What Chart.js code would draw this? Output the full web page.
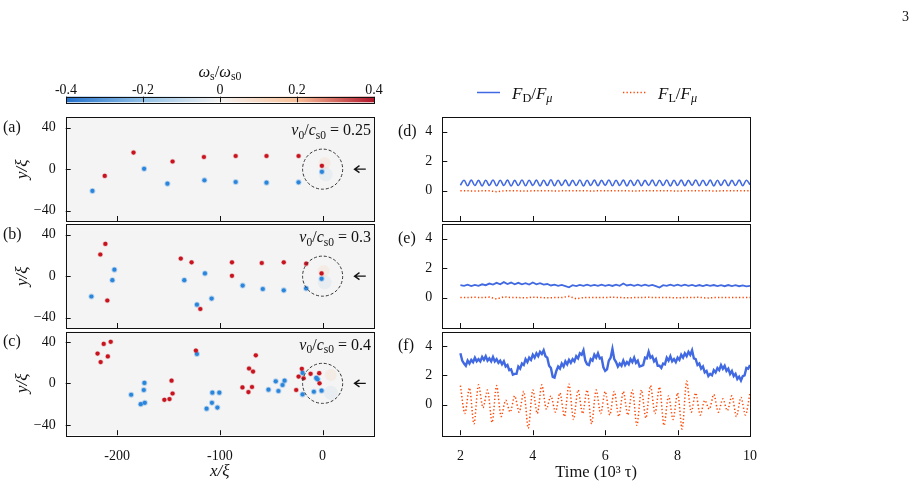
<!DOCTYPE html>
<html>
<head>
<meta charset="utf-8">
<script src="https://cdn.jsdelivr.net/npm/chart.js@4.4.0/dist/chart.umd.min.js"></script>
<style>
  body { margin: 0; background: #fff; }
  #wrap { position: relative; width: 922px; height: 492px; }
  #wrap canvas { position: absolute; left: 0; top: 0; }
  #page { position: absolute; left: 902px; top: 9px; font: 14px "Liberation Serif", serif; color: #111; }
</style>
</head>
<body>
<div id="wrap">
  <canvas id="cbar" width="922" height="492"></canvas>
  <canvas id="pa" width="922" height="492"></canvas>
  <canvas id="pb" width="922" height="492"></canvas>
  <canvas id="pc" width="922" height="492"></canvas>
  <canvas id="pd" width="922" height="492"></canvas>
  <canvas id="pe" width="922" height="492"></canvas>
  <canvas id="pf" width="922" height="492"></canvas>
  <div id="page">3</div>
</div>
<script>
// ---- data ----
const cbarTicks = [-0.4, -0.2, 0, 0.2, 0.4];
const xTicksVort = [-200, -100, 0];
const yTicksVort = [-40, 0, 40];
const timeTicks = [2, 4, 6, 8, 10];
const forceTicks = [0, 2, 4];
const speeds = ['0.25', '0.3', '0.4'];
const panelNames = ['(a)', '(b)', '(c)', '(d)', '(e)', '(f)'];

// vortex positions (x/xi, y/xi)
const redA = [[-212,-6.5],[-184,16],[-146,7.4],[-115.5,11.7],[-84.6,12.7],[-54.6,12.7],[-23.4,12.7],[-0.7,3.2]];
const blueA = [[-224,-21],[-173.7,0.3],[-151,-14],[-115,-10.7],[-84.6,-12.4],[-54.6,-13],[-23.4,-12.7],[-0.7,-2.6]];
const redB = [[-211.4,31.1],[-216.3,20.9],[-209.5,-23.5],[-138,16.9],[-127.5,13.3],[-119,-31.7],[-88.2,13.3],[-88.2,0.3],
  [-59.2,12.7],[-37.8,13.3],[-16,12],[-1,2.6]];
const blueB = [[-225,-19.6],[-202.6,6.2],[-204.6,-3.9],[-134.6,-3.9],[-114.5,2.6],[-122.3,-27.5],[-108,-21.6],[-77.8,-9.1],
  [-58.2,-12.4],[-37.8,-13.7],[-16,-11.8],[-1,-2.6]];
const redC = [[-206.2,40],[-213,38],[-219,28.7],[-209,26],[-216,20.5],[-147,2.6],[-146,-9.8],[-149,-15.2],[-154,-15.9],
  [-123.3,31.6],[-65,27],[-71.6,14.3],[-67.7,11.4],[-78,-3.9],[-68.7,-3.5],[-72.2,-8.4],[-25.7,-6.4],[-23.4,6.5],
  [-20.2,14],[-18.5,4.9],[-11.7,9.2],[-3.3,9.8],[-3,0]];
const blueC = [[-186.3,-11],[-173.4,0.4],[-174,-6.4],[-177,-20.1],[-173,-18.8],[-122.3,28.3],[-107.3,-9],[-100.5,-9],
  [-107.7,-18.8],[-112.9,-24.4],[-102.4,-23.4],[-52.7,-6.1],[-45.6,2],[-37,2.6],[-39,-1.6],[-43,-7.4],[-19.5,10.1],
  [-19.5,-10.7],[-8.5,-8.1],[-6.2,5.2],[-4.9,3.9],[-1,-7.1]];
const glowRed = [[[2,6]], [[1,5]], [[8,8]]];
const glowBlue = [[[3,-5]], [[2,-6]], [[8,-9]]];

// forces, time in 10^3 tau
const fdD = [0.36,0.7,0.33,0.71,0.34,0.69,0.32,0.7,0.35,0.72,
  0.33,0.7,0.34,0.71,0.32,0.69,0.34,0.72,0.33,0.7,
  0.35,0.71,0.32,0.7,0.34,0.73,0.33,0.7,0.35,0.71,
  0.33,0.69,0.34,0.72,0.32,0.7,0.34,0.71,0.33,0.69,
  0.35,0.72,0.33,0.7,0.34,0.71,0.32,0.7,0.34,0.72,
  0.33,0.69,0.35,0.71,0.33,0.7,0.34,0.72,0.32,0.7,
  0.34,0.71,0.33,0.69,0.35,0.72,0.33,0.7,0.34,0.71,
  0.32,0.7,0.35,0.72,0.33,0.69,0.34,0.71,0.33,0.7,
  0.4];
const flD = [-0.02,-0.02,-0.03,-0.02,-0.02,-0.08,-0.02,-0.01,-0.02,-0.03,
  -0.02,-0.02,-0.01,-0.03,-0.02,-0.02,-0.02,-0.01,-0.03,-0.02,
  -0.02,-0.02,-0.01,-0.02,-0.03,-0.02,-0.02,-0.02,-0.01,-0.02,
  -0.03,-0.02,-0.02,-0.02,-0.01,-0.03,-0.02,-0.02,-0.02,-0.02,-0.02];
const fdE = [0.85,0.8,0.88,0.78,0.86,0.8,0.9,0.84,0.95,0.88,
  1.0,0.9,1.05,0.92,1.02,0.9,1.0,0.9,0.98,0.88,
  1.02,0.9,0.98,0.88,0.92,0.82,0.88,0.8,0.86,0.78,
  0.7,0.84,0.78,0.86,0.8,0.87,0.8,0.86,0.79,0.87,
  0.8,0.86,0.79,0.88,0.8,0.95,0.82,0.88,0.8,0.87,
  0.8,0.88,0.8,0.86,0.78,0.68,0.84,0.8,0.88,0.8,
  0.87,0.8,0.88,0.8,0.86,0.78,0.85,0.78,0.86,0.79,
  0.85,0.78,0.84,0.77,0.85,0.78,0.84,0.77,0.83,0.76,
  0.8];
const flE = [0,0,0.02,0,0.03,-0.1,0.05,0,0,-0.02,
  0.03,0,-0.02,0,0,0.08,-0.08,0,0,0,
  0,0.02,0,-0.02,0,0,0.02,0,0,0,
  -0.02,0,0,0.02,-0.04,0,0,0,0,0,0];
const fdF = [3.5,3.0,2.8,2.65,3.0,2.8,3.05,2.9,3.2,2.95,
  3.1,2.95,3.25,3.05,3.3,3.0,3.15,2.95,3.25,2.95,
  3.1,2.85,3.0,2.75,2.95,2.6,2.7,2.35,2.4,2.05,
  2.1,2.1,2.6,2.45,2.8,2.7,3.1,2.9,3.2,3.05,
  3.4,3.2,3.5,3.3,3.6,3.45,3.7,3.3,3.2,2.65,
  2.5,1.9,1.85,2.3,2.6,2.45,2.8,2.6,2.95,2.75,
  3.05,2.85,3.1,2.95,3.3,3.15,3.5,3.4,3.7,3.0,
  2.75,2.7,3.1,3.0,3.4,3.2,3.5,3.15,3.2,2.55,
  2.3,2.4,3.0,3.2,3.8,3.1,2.9,2.6,2.8,2.65,
  3.0,2.7,2.9,2.75,3.1,2.9,3.2,2.85,3.0,2.6,
  2.65,2.7,3.2,3.15,3.6,3.2,3.3,2.95,3.1,2.65,
  2.65,2.5,2.8,2.75,3.2,3.0,3.3,2.95,3.1,2.9,
  3.2,3.05,3.4,3.2,3.5,3.3,3.6,3.4,3.7,3.15,
  3.1,2.7,2.8,2.45,2.6,2.2,2.3,1.95,2.1,2.0,
  2.35,2.2,2.5,2.35,2.7,2.45,2.65,2.3,2.45,2.1,
  2.3,1.95,2.1,1.75,1.9,1.65,1.95,2.0,2.5,2.45,
  2.7];
const flF = [1.3,-0.6,1.15,-1.3,1.35,-0.2,1.0,-1.2,1.3,-0.8,
  0.3,-0.5,0.6,-0.5,0.9,-1.6,1.0,-0.6,1.35,-0.3,
  0.6,-0.5,0.8,-0.8,1.4,-1.0,1.0,-0.6,1.0,-1.3,
  1.0,-0.6,0.9,-0.7,0.9,-0.8,0.9,-0.7,1.0,-1.4,
  1.0,-0.9,1.3,-0.6,1.2,-1.4,0.6,-1.0,0.8,-1.65,
  1.6,-0.5,0.8,-0.7,0.3,-0.3,0.7,-0.5,0.4,-0.4,
  0.6,-0.8,0.5,-0.7,0.8];

// ---- style ----
const FAM = '"Liberation Serif", serif';
const FS = 14;
const INK = '#111';
const RED = '#c8141f', BLUE = '#2a86dc';
const FD_COL = '#4169e1', FL_COL = '#ff4500';
Chart.defaults.font.family = FAM;
Chart.defaults.font.size = FS;
Chart.defaults.color = INK;

const pts = a => a.map(p => ({x: p[0], y: p[1]}));
const series = (t0, dt, ys) => ys.map((y, i) => ({x: +(t0 + i * dt).toFixed(3), y: y}));
const fixTicks = list => s => { s.ticks = list.map(v => ({value: v})); };
const minus = v => v < 0 ? '\u2212' + (-v) : String(v);
const noGrid = {display: true, drawTicks: false, drawOnChartArea: false};

// text with italic / subscript pieces, y is the baseline
function rich(ctx, parts, x, y, size, align) {
  const fonts = parts.map(p => {
    const sub = p[1].includes('s'), it = p[1].includes('i');
    return (it ? 'italic ' : '') + (sub ? size * 0.72 : size) + 'px ' + FAM;
  });
  let w = 0;
  parts.forEach((p, i) => { ctx.font = fonts[i]; w += ctx.measureText(p[0]).width; });
  let cx = align === 'right' ? x - w : align === 'center' ? x - w / 2 : x;
  ctx.textAlign = 'left';
  ctx.textBaseline = 'alphabetic';
  ctx.fillStyle = INK;
  parts.forEach((p, i) => {
    ctx.font = fonts[i];
    ctx.fillText(p[0], cx, y + (p[1].includes('s') ? size * 0.2 : 0));
    cx += ctx.measureText(p[0]).width;
  });
}

const deco = {
  id: 'deco',
  beforeDraw(chart, args, o) {
    const {ctx, chartArea: a} = chart;
    if (o.bg) {
      ctx.save();
      ctx.fillStyle = o.bg;
      ctx.fillRect(a.left, a.top, a.right - a.left, a.bottom - a.top);
      ctx.restore();
    }
    if (o.gradient) {
      ctx.save();
      const g = ctx.createLinearGradient(a.left, 0, a.right, 0);
      o.gradient.forEach(s => g.addColorStop(s[0], s[1]));
      ctx.fillStyle = g;
      ctx.fillRect(a.left, a.top, a.right - a.left, a.bottom - a.top);
      ctx.restore();
    }
  },
  afterDraw(chart, args, o) {
    const {ctx, chartArea: a, scales} = chart;
    ctx.save();
    ctx.strokeStyle = INK;
    ctx.lineWidth = 1;
    // ticks pointing inwards
    const tl = o.tickLen || 5;
    if (scales.x) scales.x.ticks.forEach(t => {
      const px = Math.round(scales.x.getPixelForValue(t.value)) + 0.5;
      ctx.beginPath();
      if (o.fullTicks) { ctx.moveTo(px, a.top); ctx.lineTo(px, a.bottom); }
      else { ctx.moveTo(px, a.bottom); ctx.lineTo(px, a.bottom - tl); }
      ctx.stroke();
    });
    if (scales.y && scales.y.options.display) scales.y.ticks.forEach(t => {
      const py = Math.round(scales.y.getPixelForValue(t.value)) + 0.5;
      ctx.beginPath();
      ctx.moveTo(a.left, py);
      ctx.lineTo(a.left + tl, py);
      ctx.stroke();
    });
    // frame
    ctx.strokeRect(Math.round(a.left) + 0.5, Math.round(a.top) + 0.5,
      Math.round(a.right - a.left), Math.round(a.bottom - a.top));
    // dashed circle and arrow around the obstacle
    if (o.circle) {
      const cx = scales.x.getPixelForValue(0), cy = scales.y.getPixelForValue(0);
      const r = scales.x.getPixelForValue(19.5) - cx;
      ctx.strokeStyle = '#333';
      ctx.setLineDash([3, 2]);
      ctx.beginPath();
      ctx.arc(cx, cy, r, 0, Math.PI * 2);
      ctx.stroke();
      ctx.setLineDash([]);
      const x1 = scales.x.getPixelForValue(42), x0 = scales.x.getPixelForValue(31);
      ctx.strokeStyle = INK;
      ctx.lineWidth = 1.3;
      ctx.beginPath();
      ctx.moveTo(x1, cy); ctx.lineTo(x0, cy);
      ctx.moveTo(x0 + 5, cy - 3.5); ctx.lineTo(x0, cy); ctx.lineTo(x0 + 5, cy + 3.5);
      ctx.stroke();
    }
    // panel letter
    if (o.name) {
      ctx.font = '16px ' + FAM;
      ctx.fillStyle = INK;
      ctx.textAlign = 'left';
      ctx.textBaseline = 'middle';
      ctx.fillText(o.name, o.nameX, scales.y.getPixelForValue(o.nameAt));
    }
    if (o.speed) {
      rich(ctx, [['v', 'i'], ['0', 's'], ['/', ''], ['c', 'i'], ['s0', 's'], [' = ' + o.speed, '']],
        a.right - 3, a.top + 18, 16, 'right');
    }
    if (o.title) rich(ctx, o.title, (a.left + a.right) / 2, 77, 16.5, 'center');
    if (o.legend) {
      o.legend.forEach(l => {
        ctx.strokeStyle = l.color;
        ctx.lineWidth = 1.5;
        ctx.setLineDash(l.dash);
        ctx.beginPath();
        ctx.moveTo(l.x, 92.5); ctx.lineTo(l.x + 23, 92.5);
        ctx.stroke();
        ctx.setLineDash([]);
        rich(ctx, l.text, l.x + 35, 98.5, 17, 'left');
      });
    }
    ctx.restore();
  }
};

const base = (pad) => ({
  responsive: false,
  animation: false,
  devicePixelRatio: 1,
  layout: {padding: pad},
  plugins: {legend: {display: false}, tooltip: {enabled: false}},
  elements: {point: {radius: 0}}
});

// ---- colour bar ----
(function () {
  const opt = base({left: 66, right: 548, top: 60, bottom: 389.7});
  opt.plugins.deco = {
    gradient: [[0, '#2270cc'], [0.25, '#92c1e6'], [0.5, '#f3f2f1'], [0.75, '#f8c19a'], [1, '#b0162b']],
    fullTicks: true,
    title: [['\u03c9', 'i'], ['s', 's'], ['/', ''], ['\u03c9', 'i'], ['s0', 's']]
  };
  opt.scales = {
    x: {type: 'linear', position: 'top', min: -0.4, max: 0.4,
      afterBuildTicks: fixTicks(cbarTicks),
      afterFit: s => { s.height = 36.7; },
      grid: noGrid, border: {display: false},
      ticks: {padding: -2, callback: v => v === 0 ? '0' : v.toFixed(1)}},
    y: {display: false, min: 0, max: 1}
  };
  new Chart(document.getElementById('cbar'), {type: 'scatter', data: {datasets: [{data: []}]}, options: opt, plugins: [deco]});
})();

// ---- vortex panels ----
const rowTop = [117.3, 224.3, 331.5];
const rowH = 103.7;

function vortexPanel(id, k, red, blue) {
  const bottomRow = k === 2;
  const axH = bottomRow ? 50 : 0;
  const top = rowTop[k], bot = top + rowH;
  const opt = base({left: 0, right: 548, top: top, bottom: 492 - bot - axH});
  opt.plugins.deco = {bg: '#f4f4f4', circle: true, name: panelNames[k], nameX: 3, nameAt: 40, speed: speeds[k]};
  opt.scales = {
    x: {type: 'linear', min: -250, max: 50,
      afterBuildTicks: fixTicks(xTicksVort),
      afterFit: s => { s.height = axH; },
      grid: noGrid, border: {display: false},
      ticks: {display: bottomRow, padding: 13, callback: v => String(v)},
      title: {display: bottomRow, text: 'x/\u03be', font: {style: 'italic', size: 17}, padding: {top: 0, bottom: 3}}},
    y: {type: 'linear', min: -50, max: 50,
      afterBuildTicks: fixTicks(yTicksVort),
      afterFit: s => { s.width = 65.7; },
      grid: noGrid, border: {display: false},
      ticks: {padding: 10, callback: minus},
      title: {display: true, text: 'y/\u03be', font: {style: 'italic', size: 17}, padding: {top: 12, bottom: 0}}}
  };
  new Chart(document.getElementById(id), {
    type: 'scatter',
    data: {datasets: [
      {data: pts(red), pointRadius: 2.1, pointBackgroundColor: RED, pointBorderColor: 'rgba(200,20,31,0.25)', pointBorderWidth: 1.2},
      {data: pts(blue), pointRadius: 2.1, pointBackgroundColor: BLUE, pointBorderColor: 'rgba(42,134,220,0.3)', pointBorderWidth: 1.8},
      {data: pts(glowRed[k]), pointRadius: 6, pointBackgroundColor: 'rgba(245,170,120,0.12)', pointBorderWidth: 0},
      {data: pts(glowBlue[k]), pointRadius: 7, pointBackgroundColor: 'rgba(130,175,225,0.1)', pointBorderWidth: 0}
    ]},
    options: opt,
    plugins: [deco]
  });
}
vortexPanel('pa', 0, redA, blueA);
vortexPanel('pb', 1, redB, blueB);
vortexPanel('pc', 2, redC, blueC);

// ---- force panels ----
function forcePanel(id, k, fd, fdStep, fl, flStep, fdTension, flTension, fdWidth) {
  const bottomRow = k === 2;
  const axH = bottomRow ? 50 : 0;
  const top = rowTop[k], bot = top + rowH;
  const opt = base({left: 400, right: 172, top: top, bottom: 492 - bot - axH});
  opt.plugins.deco = {name: panelNames[k + 3], nameX: 398, nameAt: 4};
  if (k === 0) {
    opt.plugins.deco.legend = [
      {x: 477, color: FD_COL, dash: [], text: [['F', 'i'], ['D', 's'], ['/', ''], ['F', 'i'], ['\u03bc', 'si']]},
      {x: 623, color: FL_COL, dash: [1.3, 2.2], text: [['F', 'i'], ['L', 's'], ['/', ''], ['F', 'i'], ['\u03bc', 'si']]}
    ];
  }
  opt.scales = {
    x: {type: 'linear', min: 1.5, max: 10,
      afterBuildTicks: fixTicks(timeTicks),
      afterFit: s => { s.height = axH; },
      grid: noGrid, border: {display: false},
      ticks: {display: bottomRow, padding: 13, callback: v => String(v)},
      title: {display: bottomRow, text: 'Time (10\u00b3 \u03c4)', font: {size: 16.5}, padding: {top: 0, bottom: 3}}},
    y: {type: 'linear', min: -2.07, max: 4.98,
      afterBuildTicks: fixTicks(forceTicks),
      afterFit: s => { s.width = 42.3; },
      grid: noGrid, border: {display: false},
      ticks: {padding: 10, callback: v => String(v)}}
  };
  new Chart(document.getElementById(id), {
    type: 'line',
    data: {datasets: [
      {data: series(2, flStep, fl), borderColor: FL_COL, borderWidth: 1.5, borderDash: [1.3, 2.2], tension: flTension},
      {data: series(2, fdStep, fd), borderColor: FD_COL, borderWidth: fdWidth, tension: fdTension}
    ]},
    options: opt,
    plugins: [deco]
  });
}
forcePanel('pd', 0, fdD, 0.1, flD, 0.2, 0.4, 0, 1.6);
forcePanel('pe', 1, fdE, 0.1, flE, 0.2, 0, 0, 1.8);
forcePanel('pf', 2, fdF, 0.05, flF, 0.125, 0, 0.3, 2.4);
</script>
</body>
</html>
